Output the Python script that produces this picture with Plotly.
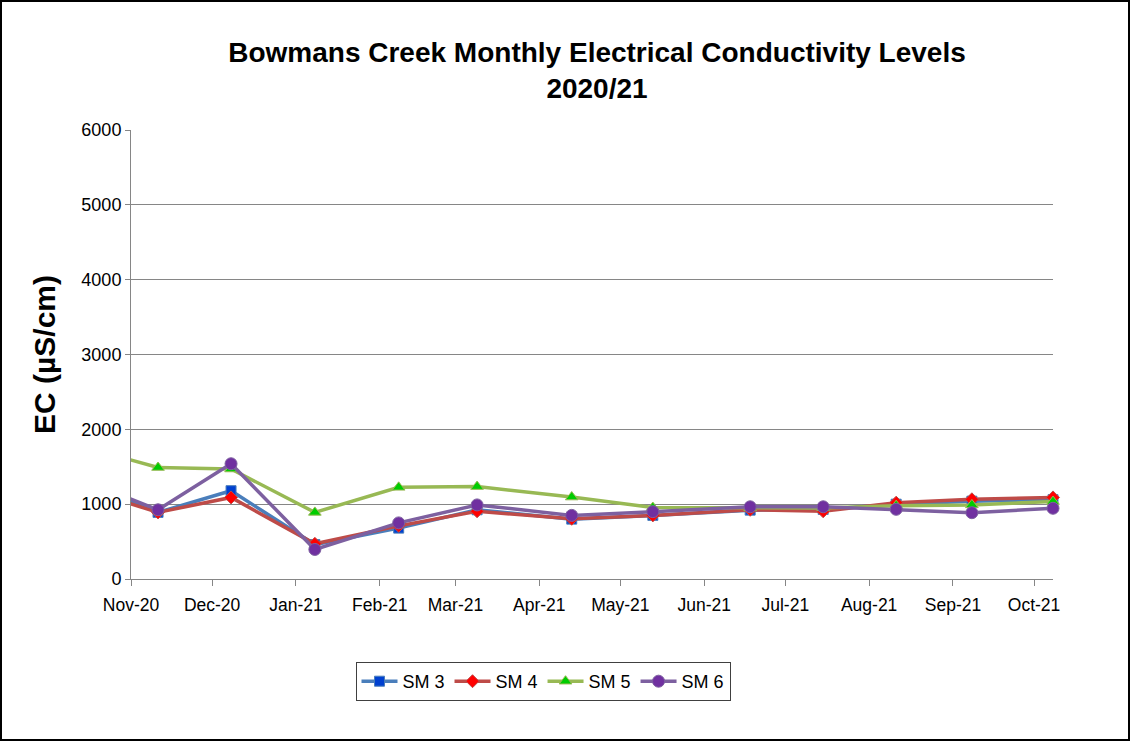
import plotly.graph_objects as go

# ---- data ----
sample_dates = ["2020-11-11", "2020-12-08", "2021-01-08", "2021-02-08", "2021-03-09",
                "2021-04-13", "2021-05-13", "2021-06-18", "2021-07-15", "2021-08-11",
                "2021-09-08", "2021-10-08"]
sm3 = [890, 1180, 460, 680, 925, 800, 850, 920, 930, 1000, 1040, 1060]
sm4 = [890, 1090, 470, 710, 905, 805, 850, 925, 905, 1020, 1065, 1090]
sm5 = [1490, 1470, 890, 1225, 1235, 1095, 955, 950, 950, 980, 990, 1035]
sm6 = [925, 1540, 395, 750, 990, 850, 900, 965, 965, 931, 886, 945]

# previous (October 2020) sample, lying just outside the visible range
prev_date = "2020-10-13"
prev_vals = {"SM 3": 1300, "SM 4": 1220, "SM 5": 1780, "SM 6": 1340}

series_names = ["SM 3", "SM 4", "SM 5", "SM 6"]
series_vals = [sm3, sm4, sm5, sm6]
line_colors = ["#4A7EBB", "#BE4B48", "#98B954", "#7D60A0"]
marker_colors = ["#0040D0", "#FF0000", "#00CC00", "#7030A0"]
marker_symbols = ["square", "diamond", "triangle-up", "circle"]
marker_sizes = [10, 10, 11, 12]

FONT = "Arial, Liberation Sans, sans-serif"
LW = 3.5

fig = go.Figure()

# lead-in segments from the previous sample (clipped at the left axis)
for name, vals, lc in zip(series_names, series_vals, line_colors):
    fig.add_trace(go.Scatter(
        x=[prev_date, sample_dates[0]], y=[prev_vals[name], vals[0]],
        mode="lines", line=dict(color=lc, width=LW), showlegend=False,
        hoverinfo="skip"))

for name, vals, lc, mc, sym, ms in zip(series_names, series_vals, line_colors,
                                       marker_colors, marker_symbols, marker_sizes):
    fig.add_trace(go.Scatter(
        x=sample_dates, y=vals, name=name, mode="lines+markers",
        line=dict(color=lc, width=LW),
        marker=dict(symbol=sym, size=ms, color=mc, line=dict(color=lc, width=1)),
        cliponaxis=False))

W, H = 1131, 743
L, R, T, B = 131, 78, 130, 164
pw, ph = W - L - R, H - T - B

def px_x(x):
    return (x - L) / pw

def px_y(y):
    return (H - B - y) / ph

fig.update_layout(
    width=W, height=H,
    margin=dict(l=L, r=R, t=T, b=B, autoexpand=False),
    paper_bgcolor="white", plot_bgcolor="white",
    font=dict(family=FONT, color="#000000", size=18),
    title=dict(text="<b>Bowmans Creek Monthly Electrical Conductivity Levels<br>2020/21</b>",
               font=dict(family=FONT, size=28, color="#000000"),
               x=597 / W, xanchor="center", xref="container",
               y=1 - 62 / H, yanchor="top", yref="container"),
    xaxis=dict(type="date", range=["2020-11-01", "2021-10-08"],
               tick0="2020-11-01", dtick="M1", tickformat="%b-%y",
               ticks="outside", ticklen=6, tickcolor="#868686",
               showline=True, linecolor="#868686", linewidth=1,
               showgrid=False, zeroline=False, ticklabelstandoff=4,
               tickfont=dict(family=FONT, size=17.5, color="#000000")),
    yaxis=dict(range=[0, 6000], dtick=1000, tick0=0,
               ticks="outside", ticklen=5, tickcolor="#868686",
               showline=True, linecolor="#868686", linewidth=1,
               showgrid=True, gridcolor="#868686", gridwidth=1,
               zeroline=False,
               tickfont=dict(family=FONT, size=18, color="#000000"),
               title=dict(text="<b>EC (µS/cm)</b>", standoff=16,
                          font=dict(family=FONT, size=30, color="#000000"))),
    legend=dict(orientation="h", x=px_x(543), xanchor="center",
                y=px_y(662), yanchor="top",
                bordercolor="#404040", borderwidth=1,
                font=dict(family=FONT, size=18, color="#000000"),
                itemwidth=36, tracegroupgap=0),
    showlegend=True,
    shapes=[dict(type="rect", xref="paper", yref="paper",
                 x0=px_x(1), x1=px_x(1129), y0=px_y(740), y1=px_y(1),
                 line=dict(color="#000000", width=2), fillcolor="rgba(0,0,0,0)",
                 layer="above")],
)

fig.write_html("out.html", config={"displayModeBar": False},
               post_script="document.body.style.margin='0';document.body.style.padding='0';")
